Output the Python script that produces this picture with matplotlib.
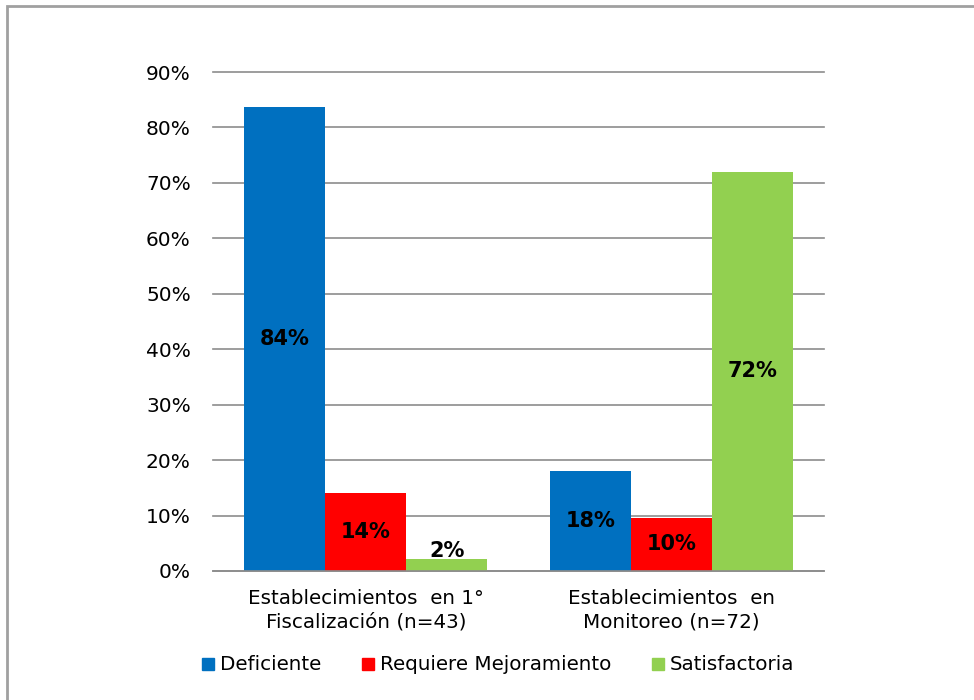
import matplotlib
matplotlib.use("Agg")
import matplotlib.pyplot as plt
import numpy as np
from matplotlib.lines import Line2D
from matplotlib.patches import Rectangle

# data
categories = ["Establecimientos  en 1°\nFiscalización (n=43)",
              "Establecimientos  en\nMonitoreo (n=72)"]
series = ["Deficiente", "Requiere Mejoramiento", "Satisfactoria"]
values = {
    "Deficiente": [0.837, 0.18],
    "Requiere Mejoramiento": [0.14, 0.096],
    "Satisfactoria": [0.022, 0.72],
}
labels = {
    "Deficiente": ["84%", "18%"],
    "Requiere Mejoramiento": ["14%", "10%"],
    "Satisfactoria": ["2%", "72%"],
}
colors = ["#0070C0", "#FF0000", "#92D050"]
yticks = [0, 0.1, 0.2, 0.3, 0.4, 0.5, 0.6, 0.7, 0.8, 0.9]

W, H = 974, 700
fig = plt.figure(figsize=(W / 100, H / 100), dpi=100)
ax = fig.add_axes([213 / W, 1 - 571 / H, (824 - 213) / W, (571 - 72) / H])

x = np.arange(len(categories))
bw = 0.265
for i, s in enumerate(series):
    pos = x + (i - 1) * bw
    ax.bar(pos, values[s], width=bw, color=colors[i], zorder=2)
    for p, v, t in zip(pos, values[s], labels[s]):
        if v < 0.05:
            # tiny bar: label sits just on top
            ax.text(p, v - 0.004, t, ha="center", va="bottom",
                    fontsize=15, fontweight="bold", color="black", zorder=3)
        else:
            ax.text(p, v / 2, t, ha="center", va="center",
                    fontsize=15, fontweight="bold", color="black", zorder=3)

ax.set_xlim(-0.5, 1.5)
ax.set_ylim(0, 0.9)
ax.set_yticks(yticks)
ax.set_yticklabels([f"{int(round(t * 100))}%" for t in yticks], fontsize=14.5)
ax.set_xticks(x)
ax.set_xticklabels(categories, fontsize=14.3, linespacing=1.3)
ax.tick_params(axis="both", length=0, colors="black")
ax.tick_params(axis="y", pad=16)
ax.tick_params(axis="x", pad=13)
ax.grid(axis="y", color="#8C8C8C", linewidth=1.2, zorder=0)
for gl in ax.get_ygridlines():
    gl.set_clip_on(False)
ax.set_axisbelow(True)
for sp in ["left", "right", "top"]:
    ax.spines[sp].set_visible(False)
ax.spines["bottom"].set_color("#8C8C8C")
ax.spines["bottom"].set_linewidth(1.2)

handles = [Line2D([], [], marker="s", linestyle="none", markersize=9,
                  markerfacecolor=c, markeredgecolor=c) for c in colors]
fig.legend(handles, series, loc="center", bbox_to_anchor=(497 / W, 1 - 665 / H),
           ncol=3, frameon=False, fontsize=14.3, handletextpad=0.15,
           columnspacing=1.9, handlelength=0.9)

# outer chart border
fig.add_artist(Rectangle((7 / W, -0.05), 1.1, 1 - 6 / H + 0.05,
                         transform=fig.transFigure, fill=False,
                         edgecolor="#A0A0A0", linewidth=2))

fig.savefig("out.png", dpi=100)
